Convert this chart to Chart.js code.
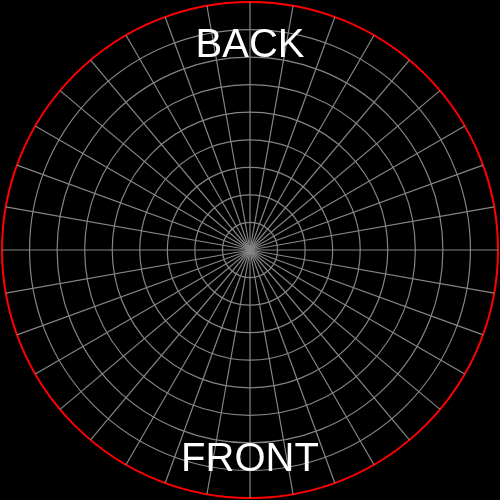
<!DOCTYPE html>
<html lang="en">
<head>
    <meta charset="UTF-8">
    <title>Polar Grid</title>
    <script src="https://cdn.jsdelivr.net/npm/chart.js"></script>
    <style>
        html, body {
            margin: 0;
            padding: 0;
            background: #000;
        }
        .chart-box {
            width: 500px;
            height: 500px;
        }
    </style>
</head>
<body>
    <div class="chart-box">
        <canvas id="polarGrid"></canvas>
    </div>

    <script>
        // angle spokes, every 10 degrees
        const angleLabels = ['0', '10', '20', '30', '40', '50', '60', '70', '80', '90',
            '100', '110', '120', '130', '140', '150', '160', '170', '180', '190',
            '200', '210', '220', '230', '240', '250', '260', '270', '280', '290',
            '300', '310', '320', '330', '340', '350'];
        // rings 0..9, last one is the red rim
        const ringValues = [0, 1, 2, 3, 4, 5, 6, 7, 8, 9];
        const seriesValues = [];
        const topText = 'BACK';
        const bottomText = 'FRONT';

        // draw the BACK / FRONT captions
        const captionPlugin = {
            id: 'captions',
            afterDraw(chart) {
                const ctx = chart.ctx;
                ctx.save();
                ctx.fillStyle = '#ffffff';
                ctx.font = '40px "Liberation Sans", Arial, sans-serif';
                ctx.textAlign = 'center';
                ctx.textBaseline = 'middle';
                ctx.fillText(topText, 250, 46);
                ctx.fillText(bottomText, 250, 460);
                ctx.restore();
            }
        };

        const ctx = document.getElementById('polarGrid').getContext('2d');
        new Chart(ctx, {
            type: 'radar',
            data: {
                labels: angleLabels,
                datasets: [{
                    label: 'grid',
                    data: seriesValues,
                    borderWidth: 0,
                    pointRadius: 0
                }]
            },
            options: {
                responsive: true,
                maintainAspectRatio: false,
                animation: false,
                layout: { padding: 2 },
                plugins: {
                    legend: { display: false },
                    tooltip: { enabled: false }
                },
                scales: {
                    r: {
                        min: ringValues[0],
                        max: ringValues[ringValues.length - 1],
                        startAngle: 0,
                        ticks: { display: false, stepSize: 1 },
                        pointLabels: { display: false },
                        angleLines: { color: '#858585', lineWidth: 1.2 },
                        grid: {
                            circular: true,
                            color: (c) => c.index === ringValues.length - 1 ? '#ff0000' : '#858585',
                            lineWidth: (c) => c.index === ringValues.length - 1 ? 2 : 1.2
                        }
                    }
                }
            },
            plugins: [captionPlugin]
        });
    </script>
</body>
</html>
